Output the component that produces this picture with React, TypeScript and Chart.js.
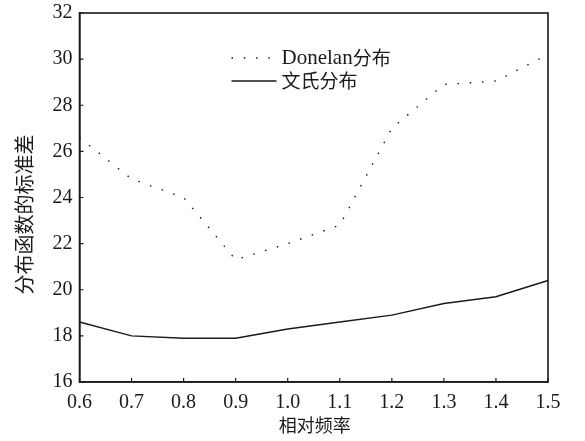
import React, { useEffect, useRef } from "react";
import { Chart, registerables } from "chart.js";

Chart.register(...registerables);

const categories = ["0.6", "0.7", "0.8", "0.9", "1.0", "1.1", "1.2", "1.3", "1.4", "1.5"];
const donelanValues = [26.6, 24.8, 24.0, 21.3, 22.0, 22.8, 27.0, 28.9, 29.05, 30.2];
const wenValues = [18.6, 18.0, 17.9, 17.9, 18.3, 18.6, 18.9, 19.4, 19.7, 20.4];
const yTicks = [16, 18, 20, 22, 24, 26, 28, 30, 32];
const seriesNames = ["Donelan分布", "文氏分布"];
const xTitle = "相对频率";
const yTitle = "分布函数的标准差";

const INK = "#1a1a1a";
const SERIF = "'Liberation Serif', 'DejaVu Serif', serif";
const CJK = "'Noto Sans CJK SC'";

function drawMixed(ctx: any, text: string, x: number, y: number) {
  const runs: { s: string; cjk: boolean }[] = [];
  for (const ch of text) {
    const cjk = /[\u3000-\u9fff]/.test(ch);
    const last = runs[runs.length - 1];
    if (last && last.cjk === cjk) last.s += ch;
    else runs.push({ s: ch, cjk });
  }
  let cx = x;
  for (const r of runs) {
    ctx.font = r.cjk ? `19px ${CJK}` : `21px ${SERIF}`;
    ctx.fillText(r.s, cx, y);
    cx += ctx.measureText(r.s).width;
  }
}

export default function App() {
  const ref = useRef<HTMLCanvasElement | null>(null);

  useEffect(() => {
    if (!ref.current) return;
    let chart: any = null;
    let cancelled = false;
    const framePlugin = {
      id: "frame",
      afterDraw(c: any) {
        const { ctx, chartArea } = c;
        const { left, right, top, bottom } = chartArea;
        const xs = c.scales.x;
        const ys = c.scales.y;
        ctx.save();
        ctx.strokeStyle = INK;
        ctx.lineWidth = 1.6;
        ctx.strokeRect(left, top, right - left, bottom - top);
        ctx.lineWidth = 1.2;
        ctx.beginPath();
        categories.forEach((_, i) => {
          const px = xs.getPixelForValue(i);
          ctx.moveTo(px, bottom);
          ctx.lineTo(px, bottom - 4);
        });
        yTicks.forEach((v) => {
          const py = ys.getPixelForValue(v);
          ctx.moveTo(left, py);
          ctx.lineTo(left + 4, py);
        });
        ctx.stroke();

        const lx = left + 152;
        const ly1 = top + 45;
        const ly2 = top + 68;
        ctx.lineWidth = 1.4;
        ctx.setLineDash([1.5, 10.8]);
        ctx.beginPath();
        ctx.moveTo(lx, ly1);
        ctx.lineTo(lx + 45, ly1);
        ctx.stroke();
        ctx.setLineDash([]);
        ctx.lineWidth = 1.4;
        ctx.beginPath();
        ctx.moveTo(lx, ly2);
        ctx.lineTo(lx + 45, ly2);
        ctx.stroke();
        ctx.fillStyle = INK;
        ctx.textBaseline = "middle";
        ctx.textAlign = "left";
        drawMixed(ctx, seriesNames[0], lx + 50, ly1);
        drawMixed(ctx, seriesNames[1], lx + 50, ly2);

        ctx.font = `18px ${CJK}`;
        ctx.textAlign = "center";
        ctx.fillText(xTitle, (left + right) / 2 + 1, 425);
        ctx.save();
        ctx.translate(24, (top + bottom) / 2 + 17);
        ctx.rotate(-Math.PI / 2);
        ctx.font = `20px ${CJK}`;
        ctx.fillText(yTitle, 0, 0);
        ctx.restore();
        ctx.restore();
      },
    };

    const build = () => {
      if (cancelled || !ref.current) return;
      chart = new Chart(ref.current, {
        type: "line",
        data: {
          labels: categories,
          datasets: [
            {
              label: seriesNames[0],
              data: donelanValues,
              borderColor: INK,
              borderWidth: 1.4,
              borderDash: [1.5, 10.8],
              pointRadius: 0,
              tension: 0,
              fill: false,
            },
            {
              label: seriesNames[1],
              data: wenValues,
              borderColor: INK,
              borderWidth: 1.5,
              pointRadius: 0,
              tension: 0,
              fill: false,
            },
          ],
        },
        options: {
          responsive: false,
          animation: false,
          layout: { padding: { left: 0, right: 37, top: 13, bottom: 0 } },
          plugins: {
            legend: { display: false },
            tooltip: { enabled: false },
            title: { display: false },
          },
          scales: {
            x: {
              type: "category",
              offset: false,
              grid: { display: false, drawTicks: false },
              border: { display: true, color: INK, width: 1.6 },
              ticks: {
                color: INK,
                padding: 9,
                maxRotation: 0,
                autoSkip: false,
                font: { family: SERIF, size: 20 },
              },
              afterFit(scale: any) {
                scale.height = 59;
                scale.paddingLeft = 0;
                scale.paddingRight = 0;
              },
            },
            y: {
              min: 16,
              max: 32,
              grid: { display: false, drawTicks: false },
              border: { display: true, color: INK, width: 1.6 },
              ticks: {
                stepSize: 2,
                color: INK,
                padding: 7,
                font: { family: SERIF, size: 20 },
              },
              afterFit(scale: any) {
                scale.width = 79.5;
                scale.paddingTop = 0;
                scale.paddingBottom = 0;
              },
            },
          },
        },
        plugins: [framePlugin],
      });
    };

    const fonts: any = (document as any).fonts;
    if (fonts && fonts.load) {
      Promise.all([
        fonts.load("20px 'Liberation Serif'", "0123456789.Donelan"),
        fonts.load("20px 'Noto Sans CJK SC'", "分布函数的标准差相对频率文氏"),
      ])
        .catch(() => null)
        .then(build);
    } else {
      build();
    }
    return () => {
      cancelled = true;
      if (chart) chart.destroy();
    };
  }, []);

  return (
    <div style={{ position: "fixed", left: 0, top: 0, width: 585, height: 441, background: "#fff" }}>
      <canvas ref={ref} width={585} height={441} style={{ display: "block" }} />
    </div>
  );
}
